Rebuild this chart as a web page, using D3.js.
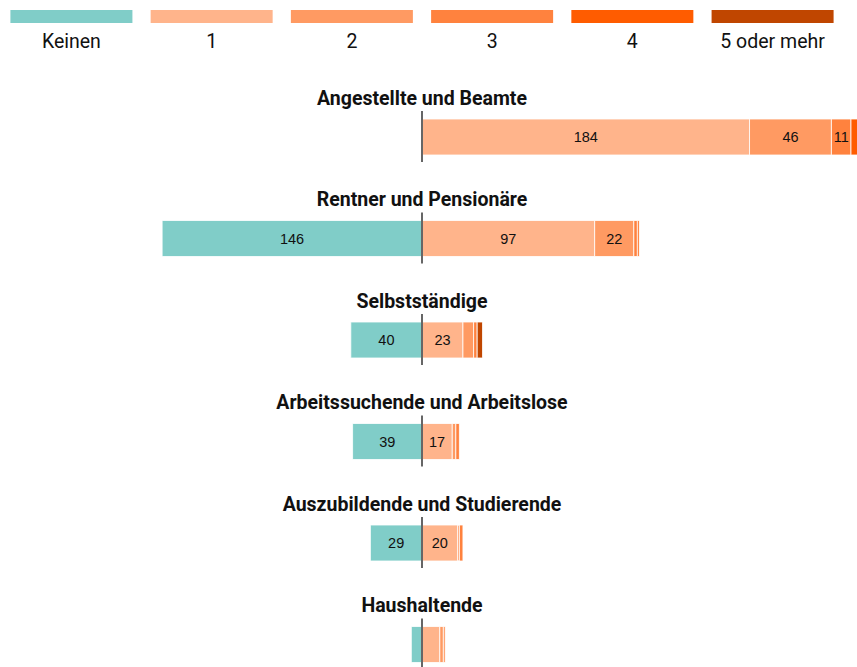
<!DOCTYPE html>
<html><head><meta charset="utf-8">
<script src="https://cdn.jsdelivr.net/npm/d3@7"></script>
<style>body{margin:0;background:#fff;} svg{display:block;}</style>
</head><body>
<svg id="chart" width="857" height="667"></svg>
<script>
const legendLabels = ["Keinen", "1", "2", "3", "4", "5 oder mehr"];
const colors = ["#80cdc8", "#ffb48b", "#ff9a62", "#ff823e", "#ff5c00", "#c04600"];
const groups = ["Angestellte und Beamte", "Rentner und Pensionäre", "Selbstständige",
  "Arbeitssuchende und Arbeitslose", "Auszubildende und Studierende", "Haushaltende"];
const keinen = [0, 146, 40, 39, 29, 6];
const eins   = [184, 97, 23, 17, 20, 10];
const zwei   = [46, 22, 6, 2, 1, 2];
const drei   = [11, 2, 2, 2, 2, 1];
const vier   = [4, 1, 0, 0, 0, 0];
const fuenf  = [2, 0, 3, 0, 0, 0];

const svg = d3.select("#chart");
const cx = 422;
const x = d3.scaleLinear().domain([-200, 200]).range([cx - 356, cx + 356]);
const yBand = d3.scaleBand().domain(groups).range([79, 688]).paddingInner(0).paddingOuter(0);

// legend
const lx = d3.scaleBand().domain(legendLabels).range([2, 842]).paddingInner(0.13).paddingOuter(0.06);
const lg = svg.append("g");
lg.selectAll("rect").data(legendLabels).join("rect")
  .attr("x", d => lx(d)).attr("y", 10).attr("width", lx.bandwidth()).attr("height", 13)
  .attr("fill", (d, i) => colors[i]);
lg.selectAll("text").data(legendLabels).join("text")
  .attr("x", d => lx(d) + lx.bandwidth() / 2).attr("y", 48)
  .attr("text-anchor", "middle").attr("font-family", "Roboto").attr("font-size", 19.5)
  .attr("fill", "#111").text(d => d);

const positives = [eins, zwei, drei, vier, fuenf];
groups.forEach((g, gi) => {
  const gy = yBand(g);
  const barTop = gy + 40, barH = 36;
  const gg = svg.append("g");
  gg.append("text").attr("x", cx).attr("y", gy + 25.5).attr("text-anchor", "middle")
    .attr("font-family", "Roboto").attr("font-weight", "bold").attr("font-size", 19.5)
    .attr("fill", "#111").text(g);
  const segs = [];
  segs.push({v: keinen[gi], x0: x(-keinen[gi]), x1: x(0), c: colors[0]});
  let acc = 0;
  positives.forEach((arr, k) => {
    const v = arr[gi];
    segs.push({v, x0: x(acc), x1: x(acc + v), c: colors[k + 1]});
    acc += v;
  });
  const s = segs.filter(d => d.v > 0);
  gg.selectAll("rect").data(s).join("rect")
    .attr("x", d => d.x0).attr("y", barTop).attr("width", d => d.x1 - d.x0).attr("height", barH)
    .attr("fill", d => d.c).attr("stroke", "#fff").attr("stroke-width", 1).attr("stroke-opacity", 0.8);
  gg.selectAll("text.v").data(s.filter(d => d.x1 - d.x0 > 18.5)).join("text")
    .attr("class", "v").attr("x", d => (d.x0 + d.x1) / 2).attr("y", barTop + barH / 2 + 5)
    .attr("text-anchor", "middle").attr("font-family", "Liberation Sans, Arial").attr("font-size", 14.5)
    .attr("fill", "#111").text(d => d.v);
  gg.append("line").attr("x1", cx).attr("x2", cx).attr("y1", barTop - 8).attr("y2", barTop + barH + 7)
    .attr("stroke", "#666").attr("stroke-width", 2);
});
</script>
</body></html>
